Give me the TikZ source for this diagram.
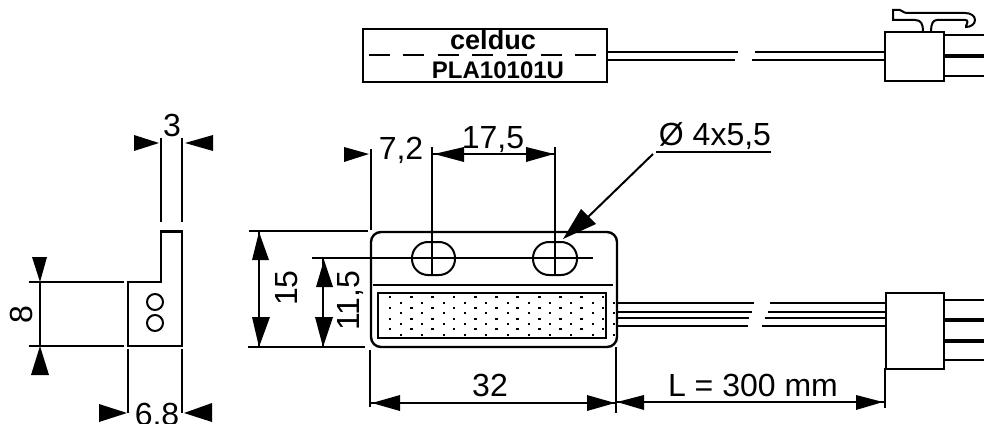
\documentclass[tikz,border=0pt]{standalone}
\usepackage{fontspec}
\setmainfont{Liberation Sans}
\tikzset{
  x=0.75pt,y=-0.75pt,
  ln/.style={line width=1.8pt,draw=black},
  thn/.style={line width=1.5pt,draw=black},
  thk/.style={line width=3pt,draw=black},
  tri/.style={fill=black,draw=none},
  dimlbl/.style={inner sep=0pt,anchor=base,font=\fontsize{24}{24}\selectfont},
  smallb/.style={inner sep=0pt,anchor=base,font=\bfseries\fontsize{20.3}{20}\selectfont},
  smallc/.style={inner sep=0pt,anchor=base,font=\bfseries\fontsize{18}{17}\selectfont},
}
\begin{document}
\begin{tikzpicture}
\useasboundingbox (0,0) rectangle (984,424);
% top label view
\node[draw=black,line width=1.8pt,minimum width=183pt,minimum height=39.5pt,inner sep=0pt,anchor=north west] (lab) at (362,28) {};
\node[smallb] (cel) at (493,50) {celduc};
\node[smallc] (pla) at (498,79) {PLA10101U};
\draw[thn,dash pattern=on 15.6pt off 10.2pt] (369,55) -- (599,55);
\draw[thn] (607,52) -- (738,52) (607,60) -- (735,60);
\draw[thn] (755,52) -- (884,52) (752,60) -- (884,60);
\node[draw=black,line width=1.6pt,minimum width=44pt,minimum height=37pt,inner sep=0pt,anchor=north west] (con1) at (884,31) {};
\draw[thn] (943,35) -- (984,35) (943,76) -- (984,76);
\draw[thk] (943,56) -- (984,56);
\draw[thn] (923,31) .. controls (923,24) and (921,20) .. (915,20) -- (893,20) -- (893,10) -- (900,10) .. controls (902,10) and (903,13) .. (907,13) -- (965,13) .. controls (971,13) and (975,16) .. (975,20) .. controls (975,24) and (971,27) .. (966,27) -- (966,26) .. controls (968,22) and (968,20) .. (965,20) -- (937,20) .. controls (933,20) and (931,24) .. (931,31);
% side view
\draw[ln] (128,282) -- (161,282) -- (161,231.5) -- (182,231.5) -- (182,346) -- (128,346) -- cycle;
\draw[thn] (155,302) circle[radius=6pt] (155,323) circle[radius=6pt];
\draw[thn] (161,138) -- (161,222) (182,138) -- (182,222);
\fill[tri] (159,143) -- (134,135) -- (134,151) -- cycle;
\fill[tri] (185,143) -- (213,135) -- (213,151) -- cycle;
\node[dimlbl] (l3) at (172,137) {3};
\draw[thn] (29,282) -- (124,282) (29,346) -- (124,346) (40,282) -- (40,346);
\fill[tri] (40,282) -- (32,257) -- (47,257) -- cycle;
\fill[tri] (40,346) -- (31,375) -- (49,375) -- cycle;
\node[dimlbl,rotate=90] (l8) at (32,315) {8};
\draw[thn] (128,349) -- (128,413) (182,349) -- (182,413);
\fill[tri] (127,413) -- (99,404) -- (99,422) -- cycle;
\fill[tri] (184,413) -- (212,403) -- (212,422) -- cycle;
\node[dimlbl] (l68) at (157,425) {6,8};
% front view
\draw[ln,rounded corners=7.5pt] (371,232) rectangle (617,347);
\draw[thn,rounded corners=12pt] (412,242) rectangle (455,275);
\draw[thn,rounded corners=12pt] (533,242) rectangle (577,275);
\draw[thn] (312,258) -- (593,258);
\draw[thn] (432,147) -- (432,276) (555,147) -- (555,275);
\draw[thn] (373,284.5) -- (613,284.5);
\draw[draw=black,line width=1.9pt] (378,293) rectangle (606,338);
\foreach \i in {0,...,10} {
  \fill ({390+21.3*\i-1.4},{297-1.4}) rectangle +(2.8,2.8);
  \fill ({390+21.3*\i-1.4},{308-1.4}) rectangle +(2.8,2.8);
  \fill ({390+21.3*\i-1.4},{319-1.4}) rectangle +(2.8,2.8);
  \fill ({390+21.3*\i-1.4},{329-1.4}) rectangle +(2.8,2.8);
  \fill ({401+21.3*\i-1},{303-1}) rectangle +(2,2);
  \fill ({401+21.3*\i-1},{313-1}) rectangle +(2,2);
  \fill ({401+21.3*\i-1},{324-1}) rectangle +(2,2);
  \fill ({401+21.3*\i-1},{335-1}) rectangle +(2,2);
}
\draw[thn] (371,149) -- (371,230) (249,231) -- (368,231) (248,347) -- (365,347);
\draw[thn] (259,232) -- (259,347) (323,258) -- (323,347);
\fill[tri] (259,232) -- (252,260) -- (269,260) -- cycle;
\fill[tri] (259,347) -- (252,317) -- (270,317) -- cycle;
\fill[tri] (324,260) -- (316,287) -- (333,287) -- cycle;
\fill[tri] (323,347) -- (315,317) -- (333,317) -- cycle;
\node[dimlbl,rotate=90] (l15) at (297,288) {15};
\node[dimlbl,rotate=90] (l115) at (359,301) {11,5};
\fill[tri] (369,154) -- (344,147) -- (344,162) -- cycle;
\node[dimlbl] (l72) at (401,160) {7,2};
\draw[thn] (432,154) -- (555,154);
\fill[tri] (434,154) -- (464,147) -- (464,162) -- cycle;
\fill[tri] (554,154) -- (526,147) -- (526,162) -- cycle;
\node[dimlbl] (l175) at (493,149) {17,5};
\coordinate (ld) at (653,154);
\draw[line width=2pt,draw=black] (656,152) -- (771,152);
\draw[thn] (ld) -- (588,217);
\fill[tri] (563,239) -- (581,209) -- (596,224) -- cycle;
\node[dimlbl] (lo) at (715,146) {Ø 4x5,5};
\draw[thn] (370,350) -- (370,407) (616,347) -- (616,413);
\draw[thn] (371,403) -- (615,403);
\fill[tri] (372,403) -- (400,395) -- (400,411) -- cycle;
\fill[tri] (615,403) -- (587,395) -- (587,411) -- cycle;
\node[dimlbl] (l32) at (490,396) {32};
% cable
\draw[thn] (617,303) -- (754,303) (617,312) -- (752,312) (617,318) -- (749,318) (617,326) -- (748,326);
\draw[thn] (770,303) -- (885,303) (768,312) -- (885,312) (765,318) -- (885,318) (762,326) -- (885,326);
\node[draw=black,line width=1.8pt,minimum width=43.5pt,minimum height=57pt,inner sep=0pt,anchor=north west] (con2) at (885,292) {};
\draw[thn] (943,300) -- (984,300) (943,360) -- (984,360);
\draw[thk] (943,320) -- (984,320) (943,341) -- (984,341);
\draw[thn] (885,368) -- (885,408) (617,402) -- (885,402);
\fill[tri] (617,402) -- (644,395) -- (644,410) -- cycle;
\fill[tri] (883,402) -- (856,395) -- (856,410) -- cycle;
\node[dimlbl] (ll) at (753,396) {L = 300 mm};
\end{tikzpicture}
\end{document}
